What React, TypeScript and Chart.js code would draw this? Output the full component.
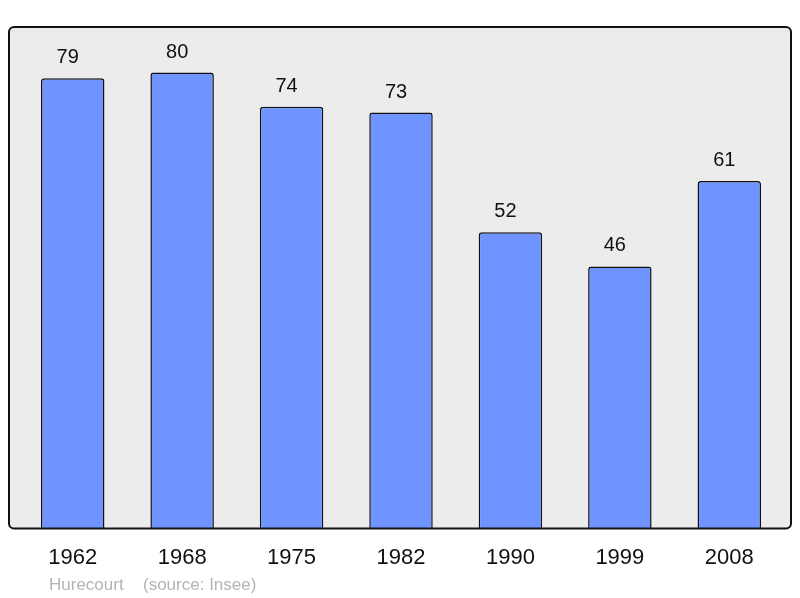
import React, { useEffect, useRef } from "react";
import { Chart, registerables } from "chart.js";

Chart.register(...registerables);

const years = ["1962", "1968", "1975", "1982", "1990", "1999", "2008"];
const population = [79, 80, 74, 73, 52, 46, 61];
const footerName = "Hurecourt";
const footerSource = "(source: Insee)";

const framePlugin = {
  id: "frame",
  beforeDatasetsDraw(chart: any) {
    const { ctx, chartArea } = chart;
    const l = chartArea.left - 9, r = chartArea.right + 7, t = chartArea.top, b = chartArea.bottom;
    ctx.save();
    ctx.beginPath();
    ctx.roundRect(l, t, r - l, b - t, 5);
    ctx.fillStyle = "#ececec";
    ctx.fill();
    ctx.restore();
  },
  afterDatasetsDraw(chart: any) {
    const { ctx, chartArea } = chart;
    const l = chartArea.left - 9, r = chartArea.right + 7, t = chartArea.top, b = chartArea.bottom;
    ctx.save();
    ctx.beginPath();
    ctx.roundRect(l, t, r - l, b - t, 5);
    ctx.lineWidth = 2;
    ctx.strokeStyle = "#111";
    ctx.stroke();
    // value labels
    const meta = chart.getDatasetMeta(0);
    ctx.fillStyle = "#111";
    ctx.font = "20px 'Liberation Sans', Arial, sans-serif";
    ctx.textAlign = "center";
    ctx.textBaseline = "alphabetic";
    meta.data.forEach((el: any, i: number) => {
      ctx.fillText(String(chart.data.datasets[0].data[i]), el.x - 5, el.y - 15);
    });
    // footer
    ctx.fillStyle = "#b4b4b4";
    ctx.font = "17px 'Liberation Sans', Arial, sans-serif";
    ctx.textAlign = "left";
    ctx.fillText(footerName, chartArea.left + 31, 590);
    ctx.fillText(footerSource, chartArea.left + 125, 590);
    ctx.restore();
  },
};

export default function App() {
  const ref = useRef<HTMLCanvasElement>(null);
  useEffect(() => {
    if (!ref.current) return;
    const chart = new Chart(ref.current, {
      type: "bar",
      data: {
        labels: years,
        datasets: [
          {
            data: population,
            backgroundColor: "#7094ff",
            borderColor: "#111",
            borderWidth: 1.5,
            borderRadius: 3,
            borderSkipped: "bottom",
            categoryPercentage: 1,
            barPercentage: 0.58,
          },
        ],
      },
      options: {
        animation: false,
        responsive: true,
        maintainAspectRatio: false,
        layout: { padding: { left: 18, right: 16, top: 27, bottom: 11 } },
        plugins: { legend: { display: false }, tooltip: { enabled: false } },
        scales: {
          x: {
            grid: { display: false, drawTicks: false },
            border: { display: false },
            ticks: {
              color: "#111",
              padding: 16,
              font: { family: "'Liberation Sans', Arial, sans-serif", size: 22 },
            },
          },
          y: {
            display: false,
            min: 0,
            max: 88,
          },
        },
      },
      plugins: [framePlugin],
    });
    return () => chart.destroy();
  }, []);
  return (
    <div style={{ position: "absolute", left: 0, top: 0, width: 800, height: 598 }}>
      <canvas ref={ref} />
    </div>
  );
}
